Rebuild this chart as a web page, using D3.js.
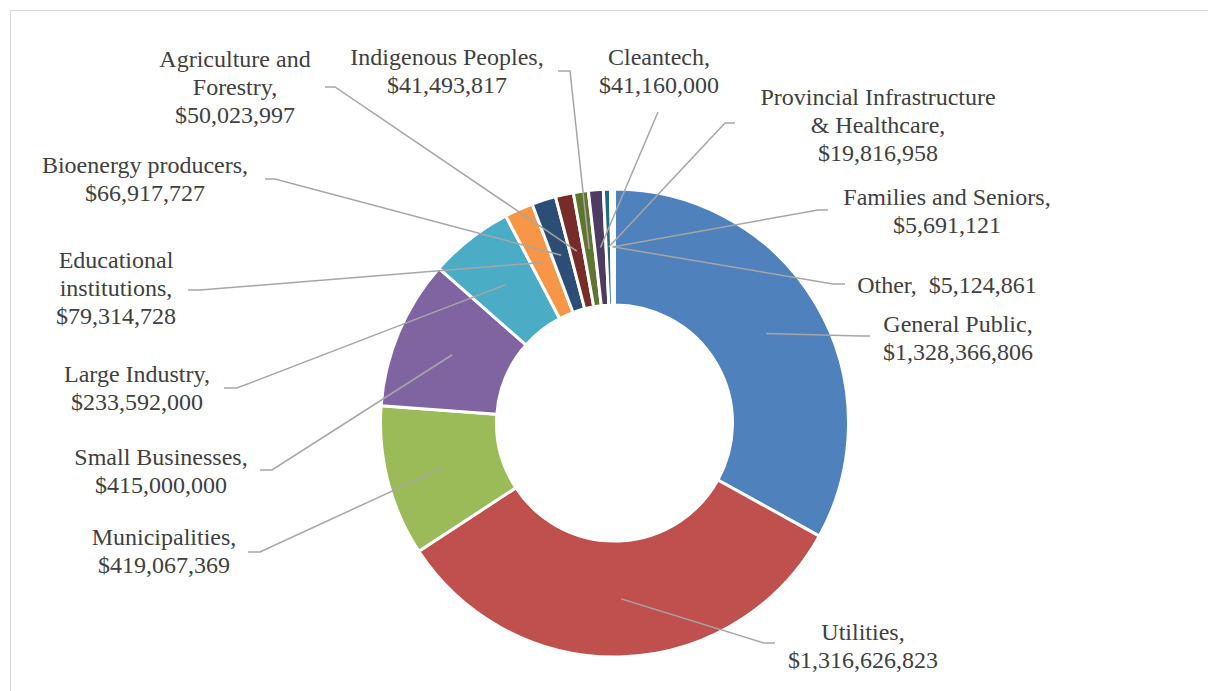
<!DOCTYPE html>
<html>
<head>
<meta charset="utf-8">
<script src="https://cdn.jsdelivr.net/npm/d3@7/dist/d3.min.js"></script>
<style>
  html, body { margin: 0; padding: 0; background: #fff; }
  svg { display: block; }
</style>
</head>
<body>
<svg id="chart" width="1208" height="691"></svg>
<script>
// ---- data ----
const categories = [
  "General Public", "Utilities", "Municipalities", "Small Businesses",
  "Large Industry", "Educational institutions", "Bioenergy producers",
  "Agriculture and Forestry", "Indigenous Peoples", "Cleantech",
  "Provincial Infrastructure & Healthcare", "Families and Seniors", "Other"
];
const values = [
  1328366806, 1316626823, 419067369, 415000000,
  233592000, 79314728, 66917727,
  50023997, 41493817, 41160000,
  19816958, 5691121, 5124861
];
const colors = [
  "#4F81BD", "#C0504D", "#9BBB59", "#8064A2", "#4BACC6", "#F79646",
  "#2C4D75", "#772C2A", "#5F7530", "#4D3B62", "#276A7C", "#B65708", "#729ACA"
];

// ---- label layout (text lines, text centre, first baseline, leader attach / elbow) ----
const labelLayout = [
  { lines: ["General Public,"], cx: 958, by: 332, attach: [870, 336], elbow: [860, 336] },
  { lines: ["Utilities,"], cx: 863, by: 640, attach: [775, 643], elbow: [764, 643] },
  { lines: ["Municipalities,"], cx: 164, by: 545, attach: [248, 552], elbow: [260, 552] },
  { lines: ["Small Businesses,"], cx: 161, by: 465, attach: [260, 470], elbow: [272, 470] },
  { lines: ["Large Industry,"], cx: 137, by: 382, attach: [224, 388], elbow: [237, 388] },
  { lines: ["Educational", "institutions,"], cx: 116, by: 268, attach: [188, 290], elbow: [200, 290] },
  { lines: ["Bioenergy producers,"], cx: 145, by: 173, attach: [265, 179], elbow: [275, 179] },
  { lines: ["Agriculture and", "Forestry,"], cx: 235, by: 67, attach: [325, 87], elbow: [335, 87] },
  { lines: ["Indigenous Peoples,"], cx: 447, by: 65, attach: [558, 71], elbow: [570, 71] },
  { lines: ["Cleantech,"], cx: 659, by: 65, attach: [658, 112], elbow: null },
  { lines: ["Provincial Infrastructure", "& Healthcare,"], cx: 878, by: 105, attach: [735, 123], elbow: [725, 123] },
  { lines: ["Families and Seniors,"], cx: 947, by: 205, attach: [828, 210], elbow: [818, 210] },
  { lines: ["Other,"], inline: true, cx: 947, by: 293, attach: [845, 284], elbow: [833, 284] }
];

const svg = d3.select("#chart");
const W = 1208, H = 691;
const cx = 614.5, cy = 423;
const outerR = 234, innerR = 118;
const lineH = 28;

// chart border
svg.append("rect")
  .attr("x", 10.5).attr("y", 10.5)
  .attr("width", 1400).attr("height", 900)
  .attr("fill", "none").attr("stroke", "#D9D9D9").attr("stroke-width", 1);

const data = categories.map((c, i) => ({ name: c, value: values[i], i }));

const pie = d3.pie().value(d => d.value).sort(null)
  .startAngle(0).endAngle(2 * Math.PI);
const arcs = pie(data);

const arc = d3.arc().innerRadius(innerR).outerRadius(outerR);
const midArc = d3.arc().innerRadius((innerR + outerR) / 2).outerRadius((innerR + outerR) / 2);

const g = svg.append("g").attr("transform", `translate(${cx},${cy})`);

g.selectAll("path.slice")
  .data(arcs)
  .join("path")
  .attr("class", "slice")
  .attr("d", arc)
  .attr("fill", d => colors[d.index % colors.length])
  .attr("stroke", "#fff")
  .attr("stroke-width", 3)
  .attr("stroke-linejoin", "round");

// leader lines
const fmt = d3.format("$,");
const lineGen = d3.line();
svg.selectAll("path.leader")
  .data(arcs)
  .join("path")
  .attr("class", "leader")
  .attr("d", d => {
    const L = labelLayout[d.index];
    const c = midArc.centroid(d);
    const pts = [L.attach];
    if (L.elbow) pts.push(L.elbow);
    pts.push([c[0] + cx, c[1] + cy]);
    return lineGen(pts);
  })
  .attr("fill", "none")
  .attr("stroke", "#A6A6A6")
  .attr("stroke-width", 1.5);

// labels
const labels = svg.selectAll("text.lbl")
  .data(arcs)
  .join("text")
  .attr("class", "lbl")
  .attr("text-anchor", "middle")
  .attr("font-family", "'Liberation Serif', 'Times New Roman', serif")
  .attr("font-size", 24)
  .attr("fill", "#404040");

labels.each(function (d) {
  const L = labelLayout[d.index];
  const t = d3.select(this);
  let rows = L.lines.slice();
  if (L.inline) rows[rows.length - 1] = rows[rows.length - 1] + "\u00A0 " + fmt(d.value);
  else rows.push(fmt(d.value));
  rows.forEach((r, k) => {
    t.append("tspan").attr("x", L.cx).attr("y", L.by + k * lineH).text(r);
  });
});
</script>
</body>
</html>
